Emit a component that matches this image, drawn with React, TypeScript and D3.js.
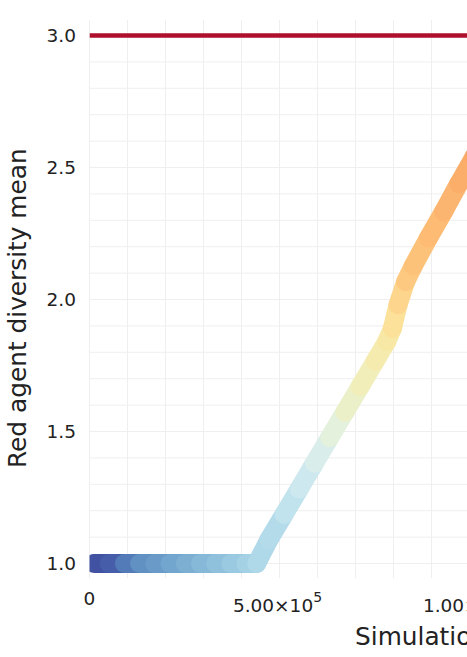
import React from 'react';
import * as d3 from 'd3';

// ---- data ----
const steps = [12000, 52000, 92000, 132000, 172000, 212000, 252000, 292000, 332000, 372000, 412000,
  440000, 472000, 512000, 552000, 592000, 632000, 672000, 712000, 752000, 782000, 797000, 812000, 832000,
  852000, 892000, 932000, 972000, 1012000, 1052000];
const diversity = [1, 1, 1, 1, 1, 1, 1, 1, 1, 1, 1,
  1.0, 1.09, 1.186, 1.283, 1.38, 1.477, 1.573, 1.67, 1.767, 1.84, 1.89, 1.98, 2.068,
  2.127, 2.233, 2.333, 2.439, 2.54, 2.64];
const colorValue = [0.03, 0.05, 0.1, 0.14, 0.16, 0.18, 0.2, 0.22, 0.24, 0.26, 0.28,
  0.3, 0.31, 0.335, 0.36, 0.39, 0.43, 0.47, 0.51, 0.54, 0.56, 0.59, 0.62, 0.65,
  0.665, 0.68, 0.69, 0.705, 0.715, 0.725];
const targetLevel = 3.0;
const yTicks = [1.0, 1.5, 2.0, 2.5, 3.0];
const yTickLabels = ['1.0', '1.5', '2.0', '2.5', '3.0'];
const xTicks = [0, 500000, 1000000];
const xTickMantissa = ['0', '5.00×10', '1.00×10'];
const xTickExponent = ['', '5', '6'];
const xMinorStep = 100000;
const yMinorStep = 0.1;
const yTitle = 'Red agent diversity mean';
const xTitle = 'Simulation steps';

export default function App() {
  const W = 467, H = 657;
  const plotTop = 20, plotBottom = 578;
  const xMax = 1880000;
  const x = d3.scaleLinear().domain([0, 1000000]).range([89.5, 469.5]);
  const y = d3.scaleLinear().domain([1, 3]).range([563.5, 35.5]);
  const plotLeft = x(0), plotRight = x(xMax);
  const font = 'DejaVu Sans, sans-serif';

  const vGrid = d3.range(0, xMax + 1, xMinorStep);
  const hGrid = d3.range(0, 21).map(i => 1 + i * yMinorStep);

  const color = (t: number) => {
    const base = d3.interpolateRdYlBu(1 - t);
    const w = 0.16 * Math.exp(-Math.pow((t - 0.49) / 0.09, 2));
    const muted = d3.interpolateRgb(base, '#b8b890')(w);
    return d3.interpolateRgb('#ffffff', muted)(0.95);
  };

  const pts = steps.map((s, i) => ({ px: x(s), py: y(diversity[i]), c: color(colorValue[i]) }));

  return (
    <svg width={W} height={H} style={{ position: 'absolute', left: 0, top: 0, background: '#fff' }}
      fontFamily={font}>
      <defs>
        <clipPath id="plotClip">
          <rect x={plotLeft} y={plotTop} width={plotRight - plotLeft} height={plotBottom - plotTop} />
        </clipPath>
      </defs>
      <rect x={0} y={0} width={W} height={H} fill="#fff" />
      {/* grid */}
      <g stroke="#efefef" strokeWidth={1}>
        {vGrid.map((v, i) => (
          <line key={'v' + i} x1={x(v)} x2={x(v)} y1={plotTop} y2={plotBottom} />
        ))}
        {hGrid.map((v, i) => (
          <line key={'h' + i} x1={plotLeft} x2={plotRight} y1={y(v)} y2={y(v)} />
        ))}
      </g>
      <g clipPath="url(#plotClip)">
        {/* target line */}
        <line x1={plotLeft} x2={plotRight} y1={y(targetLevel)} y2={y(targetLevel)}
          stroke="#ae0f2d" strokeWidth={4.5} />
        {/* trajectory */}
        {pts.map((p, i) => {
          const q = pts[i + 1];
          if (!q) return <circle key={'p' + i} cx={p.px} cy={p.py} r={9.5} fill={p.c} />;
          return (
            <line key={'p' + i} x1={p.px} y1={p.py} x2={q.px} y2={q.py}
              stroke={p.c} strokeWidth={19} strokeLinecap="round" />
          );
        })}
      </g>
      {/* y tick labels */}
      {yTicks.map((v, i) => (
        <text key={'yt' + i} x={76} y={y(v) + 6.6} textAnchor="end" fontSize={18.5} fill="#222">
          {yTickLabels[i]}
        </text>
      ))}
      {/* x tick labels */}
      {xTicks.map((v, i) => (
        xTickExponent[i] === '' ? (
          <text key={'xt' + i} x={x(v)} y={605} textAnchor="middle" fontSize={18.5} fill="#222">
            {xTickMantissa[i]}
          </text>
        ) : (
          <text key={'xt' + i} x={x(v) - 2} y={612} textAnchor="middle" fontSize={18.5} fill="#222">
            {xTickMantissa[i]}
            <tspan fontSize={14} dy={-10.5}>{xTickExponent[i]}</tspan>
          </text>
        )
      ))}
      {/* axis titles */}
      <text transform={`translate(26,468) rotate(-90)`} fontSize={24.8} fill="#222">{yTitle}</text>
      <text x={355} y={645} fontSize={24.8} fill="#222">{xTitle}</text>
    </svg>
  );
}
